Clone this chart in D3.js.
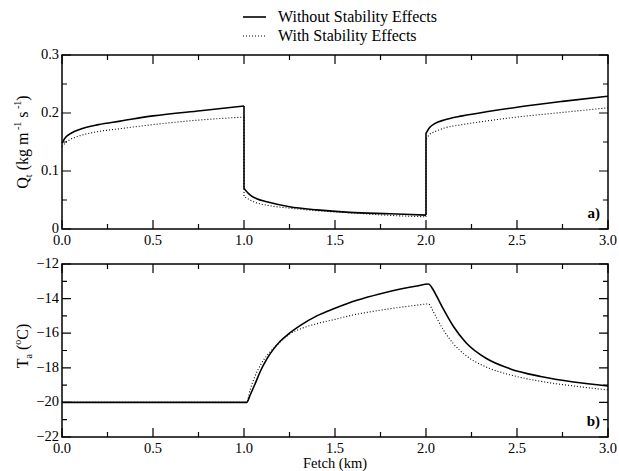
<!DOCTYPE html>
<html>
<head>
<meta charset="utf-8">
<script src="https://cdn.jsdelivr.net/npm/d3@7"></script>
<style>
  body { margin: 0; background: #fff; }
  text, tspan { font-family: "Liberation Serif", "Times New Roman", Times, serif; }
</style>
</head>
<body>
<svg id="chart" width="619" height="471"></svg>
<script>
const SERIF = "Liberation Serif, Times New Roman, Times, serif";

// Fetch positions (km) for the transport panel; 1.0 and 2.0 repeat for the jumps
const fetchQ = [0, 0.02, 0.05, 0.1, 0.2, 0.32, 0.5, 0.76, 1.0,
                1.0, 1.033, 1.07, 1.125, 1.25, 1.4, 1.58, 1.8, 2.0,
                2.0, 2.02, 2.05, 2.1, 2.2, 2.35, 2.5, 2.75, 3.0];
// Snow transport Q_t (kg m^-1 s^-1)
const qWithout = [0.148, 0.158, 0.165, 0.172, 0.180, 0.186, 0.195, 0.204, 0.212,
                  0.070, 0.059, 0.052, 0.047, 0.0385, 0.033, 0.0287, 0.0262, 0.024,
                  0.165, 0.175, 0.182, 0.188, 0.195, 0.203, 0.210, 0.220, 0.229];
const qWith    = [0.142, 0.149, 0.155, 0.161, 0.168, 0.173, 0.180, 0.188, 0.193,
                  0.0557, 0.050, 0.045, 0.041, 0.036, 0.0315, 0.028, 0.0235, 0.021,
                  0.155, 0.163, 0.168, 0.174, 0.180, 0.187, 0.193, 0.201, 0.209];

// Fetch positions (km) for the air temperature panel
const fetchT = [0, 1.0, 1.015, 1.033, 1.06, 1.09, 1.125, 1.16, 1.2, 1.25, 1.31, 1.4, 1.5,
                1.62, 1.75, 1.86, 1.95, 2.013, 2.04, 2.06, 2.095, 2.15, 2.22, 2.33,
                2.46, 2.63, 2.81, 3.0];
// Air temperature T_a (deg C)
const tWithout = [-20, -20, -20, -19.6, -18.95, -18.2, -17.5, -16.95, -16.45, -16.0, -15.55, -15.0, -14.56,
                  -14.1, -13.72, -13.45, -13.27, -13.16, -13.5, -13.89, -14.6, -15.6, -16.55, -17.45,
                  -18.05, -18.5, -18.82, -19.05];
const tWith    = [-20, -20, -20, -19.3, -18.5, -17.85, -17.3, -16.9, -16.5, -16.05, -15.75, -15.45, -15.2,
                  -14.9, -14.67, -14.5, -14.38, -14.31, -14.75, -15.15, -15.8, -16.6, -17.3, -17.95,
                  -18.4, -18.78, -19.05, -19.28];

const xTicks = [0, 0.5, 1.0, 1.5, 2.0, 2.5, 3.0];
const qTicks = [0, 0.1, 0.2, 0.3];
const tTicks = [-22, -20, -18, -16, -14, -12];

const seriesNames = ["Without Stability Effects", "With Stability Effects"];

const svg = d3.select("#chart");
const left = 62, right = 608;

const x = d3.scaleLinear().domain([0, 3]).range([left, right]);
const yQ = d3.scaleLinear().domain([0, 0.3]).range([229, 55]);
const yT = d3.scaleLinear().domain([-22, -12]).range([437, 264]);

const solidStyle = { width: 1.6, dash: null };
const dotStyle = { width: 1.1, dash: "1,2" };

function panel(y, yMajor, yMinorStep, data, tag) {
  const g = svg.append("g");
  const [y0, y1] = y.domain();
  const top = y.range()[1], bottom = y.range()[0];

  const xMinor = d3.range(0, 3.0001, 0.25).filter(v => Math.abs(v * 2 - Math.round(v * 2)) > 1e-6);
  const yMinor = d3.range(y0, y1 + 1e-9, yMinorStep).filter(v => !yMajor.some(m => Math.abs(m - v) < 1e-9));

  // inward ticks on all four sides
  const majorLen = 9, minorLen = 5;
  const tickPath = d3.path();
  xTicks.forEach(v => {
    tickPath.moveTo(x(v), bottom); tickPath.lineTo(x(v), bottom - majorLen);
    tickPath.moveTo(x(v), top); tickPath.lineTo(x(v), top + majorLen);
  });
  xMinor.forEach(v => {
    tickPath.moveTo(x(v), bottom); tickPath.lineTo(x(v), bottom - minorLen);
    tickPath.moveTo(x(v), top); tickPath.lineTo(x(v), top + minorLen);
  });
  yMajor.forEach(v => {
    tickPath.moveTo(left, y(v)); tickPath.lineTo(left + majorLen, y(v));
    tickPath.moveTo(right, y(v)); tickPath.lineTo(right - majorLen, y(v));
  });
  yMinor.forEach(v => {
    tickPath.moveTo(left, y(v)); tickPath.lineTo(left + minorLen, y(v));
    tickPath.moveTo(right, y(v)); tickPath.lineTo(right - minorLen, y(v));
  });
  g.append("path").attr("d", tickPath.toString()).attr("stroke", "#000").attr("stroke-width", 1.2).attr("fill", "none");

  // data lines: smooth within each stretch, vertical jumps where a fetch value repeats
  const line = d3.line().x(d => x(d[0])).y(d => y(d[1])).curve(d3.curveMonotoneX);
  data.forEach((pts, i) => {
    const st = i === 0 ? solidStyle : dotStyle;
    const pieces = [];
    let cur = [];
    pts.forEach((p, k) => {
      if (k > 0 && p[0] === pts[k - 1][0]) { pieces.push(cur); cur = [pts[k - 1]]; }
      cur.push(p);
    });
    pieces.push(cur);
    pieces.forEach(pc => {
      let d;
      if (pc.length > 1 && pc[0][0] === pc[1][0]) {
        d = "M" + x(pc[0][0]) + "," + y(pc[0][1]) + "L" + line(pc.slice(1)).slice(1);
      } else {
        d = line(pc);
      }
      g.append("path").attr("d", d)
        .attr("fill", "none").attr("stroke", "#000")
        .attr("stroke-width", st.width)
        .attr("stroke-dasharray", st.dash);
    });
  });

  // frame
  g.append("rect").attr("x", left).attr("y", top).attr("width", right - left).attr("height", bottom - top)
    .attr("fill", "none").attr("stroke", "#000").attr("stroke-width", 1.5);

  // tick labels
  g.selectAll(".xl").data(xTicks).join("text")
    .attr("font-family", SERIF)
    .attr("x", d => x(d)).attr("y", bottom + 16)
    .attr("text-anchor", "middle").attr("font-size", 14.5)
    .text(d => d3.format(".1f")(d));
  g.selectAll(".yl").data(yMajor).join("text")
    .attr("font-family", SERIF)
    .attr("x", left - 3).attr("y", d => y(d) + 4)
    .attr("text-anchor", "end").attr("font-size", 14.5)
    .text(d => Number.isInteger(d) ? d3.format("d")(d) : d3.format(".1f")(d));

  g.append("text").attr("font-family", SERIF)
    .attr("x", right - 8).attr("y", bottom - 11)
    .attr("text-anchor", "end").attr("font-size", 15).attr("font-weight", "bold").text(tag);
  return g;
}

const qData = [fetchQ.map((f, i) => [f, qWithout[i]]), fetchQ.map((f, i) => [f, qWith[i]])];
const tData = [fetchT.map((f, i) => [f, tWithout[i]]), fetchT.map((f, i) => [f, tWith[i]])];

panel(yQ, qTicks, 0.05, qData, "a)");
panel(yT, tTicks, 1, tData, "b)");

// y-axis titles
const qLabel = svg.append("text").attr("font-family", SERIF)
  .attr("transform", "translate(28,142) rotate(-90)")
  .attr("text-anchor", "middle").attr("font-size", 16);
qLabel.append("tspan").text("Q");
qLabel.append("tspan").attr("font-size", 10).attr("dy", 4).text("t");
qLabel.append("tspan").attr("dy", -4).text(" (kg m");
qLabel.append("tspan").attr("font-size", 10).attr("dy", -7).text(" -1");
qLabel.append("tspan").attr("dy", 7).text(" s");
qLabel.append("tspan").attr("font-size", 10).attr("dy", -7).text(" -1");
qLabel.append("tspan").attr("dy", 7).text(")");

const tLabel = svg.append("text").attr("font-family", SERIF)
  .attr("transform", "translate(28,346) rotate(-90)")
  .attr("text-anchor", "middle").attr("font-size", 16);
tLabel.append("tspan").text("T");
tLabel.append("tspan").attr("font-size", 10).attr("dy", 4).text("a");
tLabel.append("tspan").attr("dy", -4).text(" (");
tLabel.append("tspan").attr("font-size", 10).attr("dy", -7).text("o");
tLabel.append("tspan").attr("dy", 7).text("C)");

// x-axis title
svg.append("text").attr("font-family", SERIF)
  .attr("x", 335).attr("y", 468).attr("text-anchor", "middle")
  .attr("font-size", 14.5).text("Fetch (km)");

// legend
const legend = svg.append("g");
seriesNames.forEach((name, i) => {
  const st = i === 0 ? solidStyle : dotStyle;
  const yy = 17 + i * 19;
  legend.append("line").attr("x1", 243).attr("x2", 266).attr("y1", yy).attr("y2", yy)
    .attr("stroke", "#000").attr("stroke-width", st.width).attr("stroke-dasharray", st.dash);
  legend.append("text").attr("font-family", SERIF)
    .attr("x", 278).attr("y", yy + 5).attr("font-size", 16).text(name);
});
</script>
</body>
</html>
